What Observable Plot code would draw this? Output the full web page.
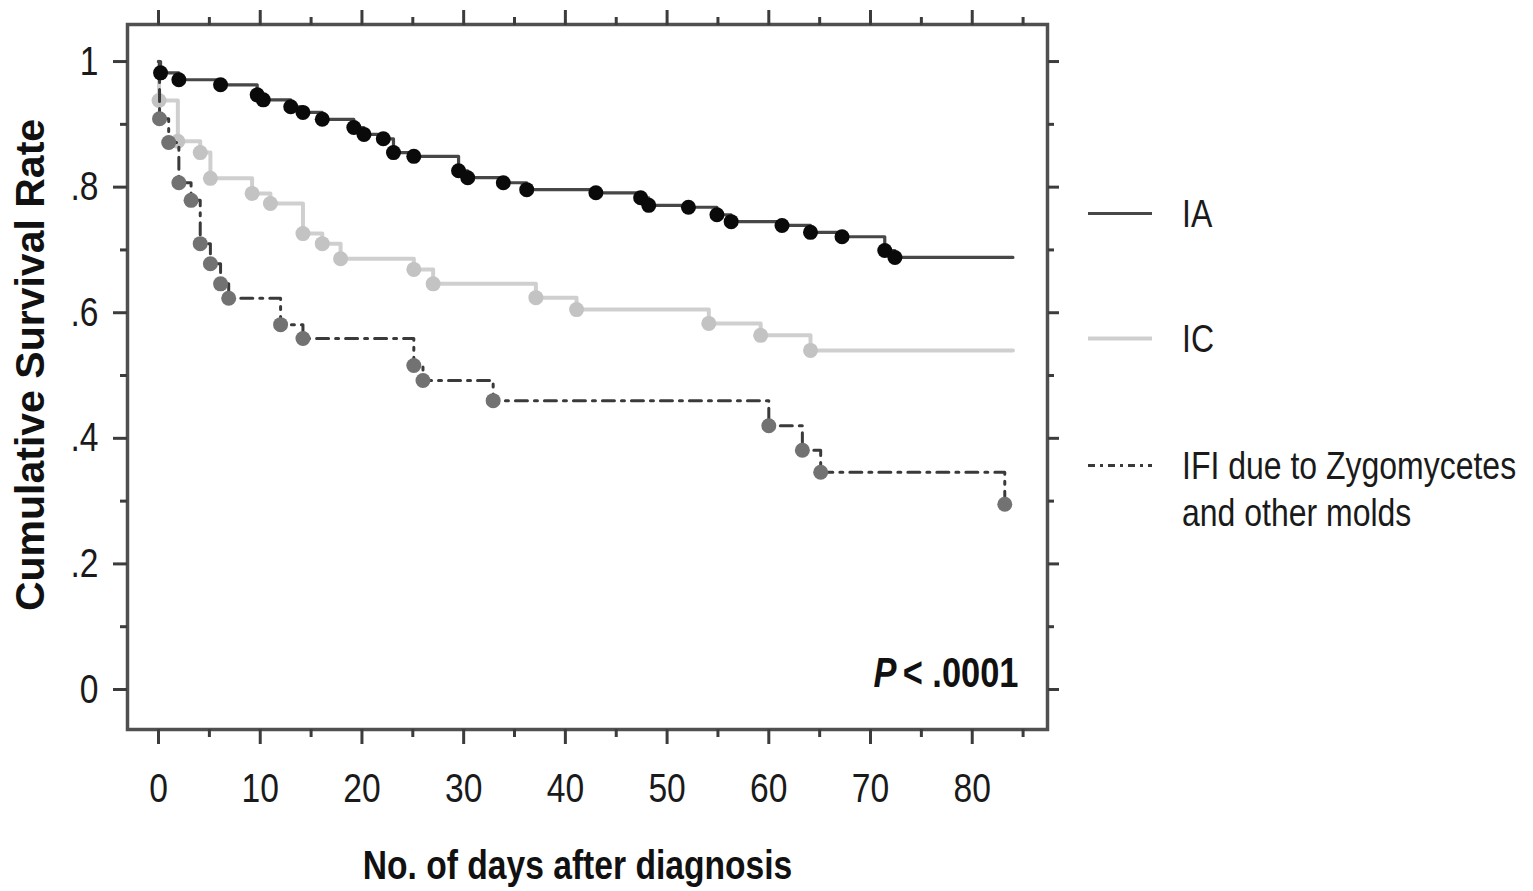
<!DOCTYPE html>
<html><head><meta charset="utf-8">
<script src="https://cdn.jsdelivr.net/npm/d3@7"></script>
<script src="https://cdn.jsdelivr.net/npm/@observablehq/plot@0.6"></script>
<style>
body{margin:0;background:#fff;}
#wrap{position:relative;width:1533px;height:891px;overflow:hidden;font-family:"Liberation Sans",Arial,sans-serif;color:#1a1a1a;}
#chart{position:absolute;left:0;top:0;}
.lrow{position:absolute;left:1088px;display:flex;align-items:flex-start;width:600px;}
.ltxt{margin-left:30px;font-size:39px;line-height:47px;white-space:pre;color:#1a1a1a;transform:scaleX(0.82);transform-origin:0 50%;}
</style></head><body>
<div id="wrap"><div id="chart"></div><div id="legend"></div></div>
<script>
// ---- data ----
const xTicks = [0, 10, 20, 30, 40, 50, 60, 70, 80];
const xMinorTicks = [5, 15, 25, 35, 45, 55, 65, 75, 85];
const yTicks = [0, 0.2, 0.4, 0.6, 0.8, 1];
const yTickLabels = ["0", ".2", ".4", ".6", ".8", "1"];
const yMinorTicks = [0.1, 0.3, 0.5, 0.7, 0.9];
const seriesNames = ["IA", "IC", "IFI due to Zygomycetes\nand other molds"];
const xTitle = "No. of days after diagnosis";
const yTitle = "Cumulative Survival Rate";
const pLetter = "P";
const pValueText = "< .0001";
const followUpEnd = 84;

const iaTime = [0, 0.2, 2.0, 6.1, 9.7, 10.3, 13.0, 14.2, 16.1, 19.2, 20.2, 22.1, 23.1, 25.1, 29.5, 30.4, 33.9, 36.2, 43.0, 47.4, 48.2, 52.1, 54.9, 56.3, 61.3, 64.1, 67.2, 71.4, 72.4];
const iaSurv = [1.0, 0.982, 0.971, 0.963, 0.947, 0.939, 0.928, 0.919, 0.908, 0.895, 0.884, 0.877, 0.855, 0.849, 0.826, 0.815, 0.807, 0.796, 0.791, 0.783, 0.771, 0.768, 0.756, 0.745, 0.739, 0.728, 0.721, 0.699, 0.688];

const icTime = [0, 0.05, 1.9, 4.1, 5.1, 9.2, 11.0, 14.2, 16.1, 17.9, 25.1, 27.0, 37.1, 41.1, 54.1, 59.2, 64.1];
const icSurv = [1.0, 0.938, 0.873, 0.855, 0.814, 0.790, 0.774, 0.726, 0.710, 0.686, 0.669, 0.646, 0.624, 0.605, 0.583, 0.564, 0.540];

const zyTime = [0, 0.1, 1.0, 2.0, 3.2, 4.1, 5.1, 6.1, 6.9, 12.0, 14.2, 25.1, 26.0, 32.9, 60.0, 63.3, 65.1, 83.2];
const zySurv = [1.0, 0.909, 0.871, 0.807, 0.779, 0.710, 0.678, 0.646, 0.623, 0.581, 0.559, 0.516, 0.492, 0.460, 0.420, 0.381, 0.346, 0.295];

// ---- build tables ----
const toPts = (ts, ss) => ts.map((t, i) => ({t, s: ss[i]}));
const iaPts = toPts(iaTime, iaSurv), icPts = toPts(icTime, icSurv), zyPts = toPts(zyTime, zySurv);
const withTail = pts => pts.concat([{t: followUpEnd, s: pts[pts.length - 1].s}]);
const iaLine = withTail(iaPts), icLine = withTail(icPts), zyLine = zyPts;
const iaDots = iaPts.slice(1), icDots = icPts.slice(1), zyDots = zyPts.slice(1);

const colors = {ia: "#474747", iaDot: "#0a0a0a", ic: "#cfcfcf", icDot: "#c3c3c3", zy: "#3a3a3a", zyDot: "#727272"};
const zyDash = "12,7,3,7";
const axisColor = "#3c3c3c";
const font = "'Liberation Sans',Arial,sans-serif";
const yLabelMap = new Map(yTicks.map((d, i) => [d, yTickLabels[i]]));

const chart = Plot.plot({
  width: 1075, height: 891,
  marginLeft: 127, marginRight: 28, marginTop: 24, marginBottom: 162,
  x: {domain: [-3.05, 87.4], axis: null},
  y: {domain: [-0.0637, 1.059], axis: null},
  style: {fontFamily: font, color: "#1a1a1a", background: "transparent"},
  marks: [
    // series
    Plot.line(icLine, {x: "t", y: "s", curve: "step-after", stroke: colors.ic, strokeWidth: 4}),
    Plot.dot(icDots, {x: "t", y: "s", r: 7.5, fill: colors.icDot}),
    Plot.line(zyLine, {x: "t", y: "s", curve: "step-after", stroke: colors.zy, strokeWidth: 3, strokeDasharray: zyDash}),
    Plot.dot(zyDots, {x: "t", y: "s", r: 7.5, fill: colors.zyDot}),
    Plot.line(iaLine, {x: "t", y: "s", curve: "step-after", stroke: colors.ia, strokeWidth: 3.2}),
    Plot.dot(iaDots, {x: "t", y: "s", r: 7.5, fill: colors.iaDot}),
    // frame and axes
    Plot.frame({stroke: "#505050", strokeWidth: 3.5}),
    Plot.axisX(xTicks, {anchor: "bottom", tickSize: 15, tickPadding: 28, stroke: axisColor, strokeWidth: 3, fill: "#1a1a1a", fontSize: 41, label: null}),
    Plot.axisX(xMinorTicks, {anchor: "bottom", tickSize: 8, stroke: axisColor, strokeWidth: 3, fill: "none", label: null}),
    Plot.axisX(xTicks, {anchor: "top", tickSize: 15, stroke: axisColor, strokeWidth: 3, fill: "none", label: null}),
    Plot.axisX(xMinorTicks, {anchor: "top", tickSize: 8, stroke: axisColor, strokeWidth: 3, fill: "none", label: null}),
    Plot.axisY(yTicks, {anchor: "left", tickSize: 14, tickPadding: 15, stroke: axisColor, strokeWidth: 3, fill: "#1a1a1a", fontSize: 41, tickFormat: d => yLabelMap.get(d), label: null}),
    Plot.axisY(yMinorTicks, {anchor: "left", tickSize: 7, stroke: axisColor, strokeWidth: 3, fill: "none", label: null}),
    Plot.axisY(yTicks, {anchor: "right", tickSize: 11, stroke: axisColor, strokeWidth: 3, fill: "none", label: null}),
    Plot.axisY(yMinorTicks, {anchor: "right", tickSize: 6, stroke: axisColor, strokeWidth: 3, fill: "none", label: null}),
    // titles and annotation
    Plot.text([xTitle], {text: d => d, frameAnchor: "bottom", dx: -10, dy: 136, textAnchor: "middle", lineAnchor: "middle", fontSize: 41, fontWeight: "bold", fill: "#111"}),
    Plot.text([yTitle], {text: d => d, frameAnchor: "left", rotate: -90, dx: -97, dy: -12, textAnchor: "middle", lineAnchor: "middle", fontSize: 41, fontWeight: "bold", fill: "#111"}),
    Plot.text([pValueText], {text: d => d, frameAnchor: "bottom-right", dx: -29, dy: -56, textAnchor: "end", lineAnchor: "middle", fontSize: 42, fontWeight: "bold", fill: "#111"}),
    Plot.text([pLetter], {text: d => d, frameAnchor: "bottom-right", dx: -151, dy: -56, textAnchor: "end", lineAnchor: "middle", fontSize: 42, fontWeight: "bold", fontStyle: "italic", fill: "#111"})
  ]
});
// the reference's lettering is horizontally condensed: narrow every unrotated text about its anchor
d3.select(chart).selectAll("text").each(function () {
  const t = this.getAttribute("transform") || "";
  if (/rotate/.test(t)) return;
  const x = +(this.getAttribute("x") || 0);
  this.setAttribute("transform", `${t} translate(${x},0) scale(0.82,1) translate(${-x},0)`);
});
document.getElementById("chart").appendChild(chart);

// ---- legend (HTML, right of the chart) ----
const legendItems = [
  {name: seriesNames[0], stroke: colors.ia, width: 3, dash: null, top: 213},
  {name: seriesNames[1], stroke: colors.ic, width: 4, dash: null, top: 338},
  {name: seriesNames[2], stroke: colors.zy, width: 3, dash: "7,5,3,5", top: 465}
];
const legend = d3.select("#legend");
legendItems.forEach(it => {
  const row = legend.append("div").attr("class", "lrow").style("top", (it.top - 23.5) + "px");
  const sw = row.append("svg").attr("width", 64).attr("height", 47).style("flex", "none");
  sw.append("line").attr("x1", 0).attr("x2", 64).attr("y1", 23.5).attr("y2", 23.5)
    .attr("stroke", it.stroke).attr("stroke-width", it.width)
    .attr("stroke-dasharray", it.dash);
  row.append("div").attr("class", "ltxt").text(it.name);
});
</script>
</body></html>
